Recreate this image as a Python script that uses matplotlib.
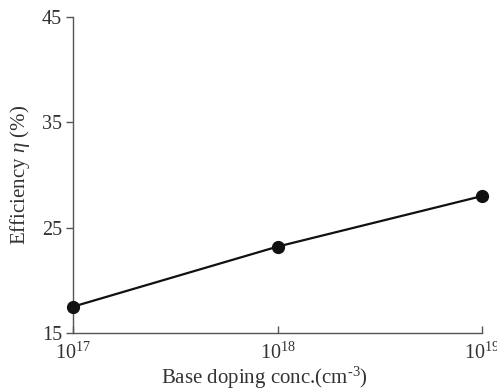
import matplotlib
matplotlib.use("Agg")
import matplotlib.pyplot as plt

doping = [1e17, 1e18, 1e19]
efficiency = [17.5, 23.2, 28.0]
y_ticks = [15, 25, 35, 45]
x_ticks = [1e17, 1e18, 1e19]
x_tick_labels = ["10$^{17}$", "10$^{18}$", "10$^{19}$"]

plt.rcParams["font.family"] = ["Liberation Serif", "DejaVu Serif"]
plt.rcParams["mathtext.fontset"] = "custom"
plt.rcParams["mathtext.rm"] = "Liberation Serif"
plt.rcParams["mathtext.it"] = "Liberation Serif:italic"

fig = plt.figure(figsize=(4.97, 3.92), dpi=100)
ax = fig.add_axes([73 / 497, 59 / 392, 409 / 497, 316 / 392])

ax.plot(doping, efficiency, color="#111111", lw=1.6, marker="o",
        markersize=8.5, markerfacecolor="#111111", markeredgecolor="#111111",
        clip_on=False, zorder=3)

ax.set_xscale("log")
ax.set_xlim(1e17, 1e19)
ax.set_ylim(15, 45)
ax.set_yticks(y_ticks)
ax.set_xticks(x_ticks)
ax.set_xticklabels(x_tick_labels)
ax.minorticks_off()

for side in ("top", "right"):
    ax.spines[side].set_visible(False)
for side in ("left", "bottom"):
    ax.spines[side].set_color("#555555")
    ax.spines[side].set_linewidth(1.0)

ax.tick_params(axis="y", direction="out", length=5, width=1, color="#555555",
               labelsize=14.5, labelcolor="#333333", pad=3)
ax.tick_params(axis="x", direction="in", length=5, width=1, color="#555555",
               labelsize=14.5, labelcolor="#333333", pad=7)

ax.set_xlabel("Base doping conc.(cm$^{\u2010 3}$)", fontsize=15, color="#333333")
ax.set_ylabel("Efficiency $\\mathit{\\eta}$ (%)", fontsize=15, color="#333333")
ax.xaxis.set_label_coords((264 - 73) / 409, -0.102)
ax.yaxis.set_label_coords(-0.10, 0.5)

fig.savefig("out.png", dpi=100, facecolor="white")
